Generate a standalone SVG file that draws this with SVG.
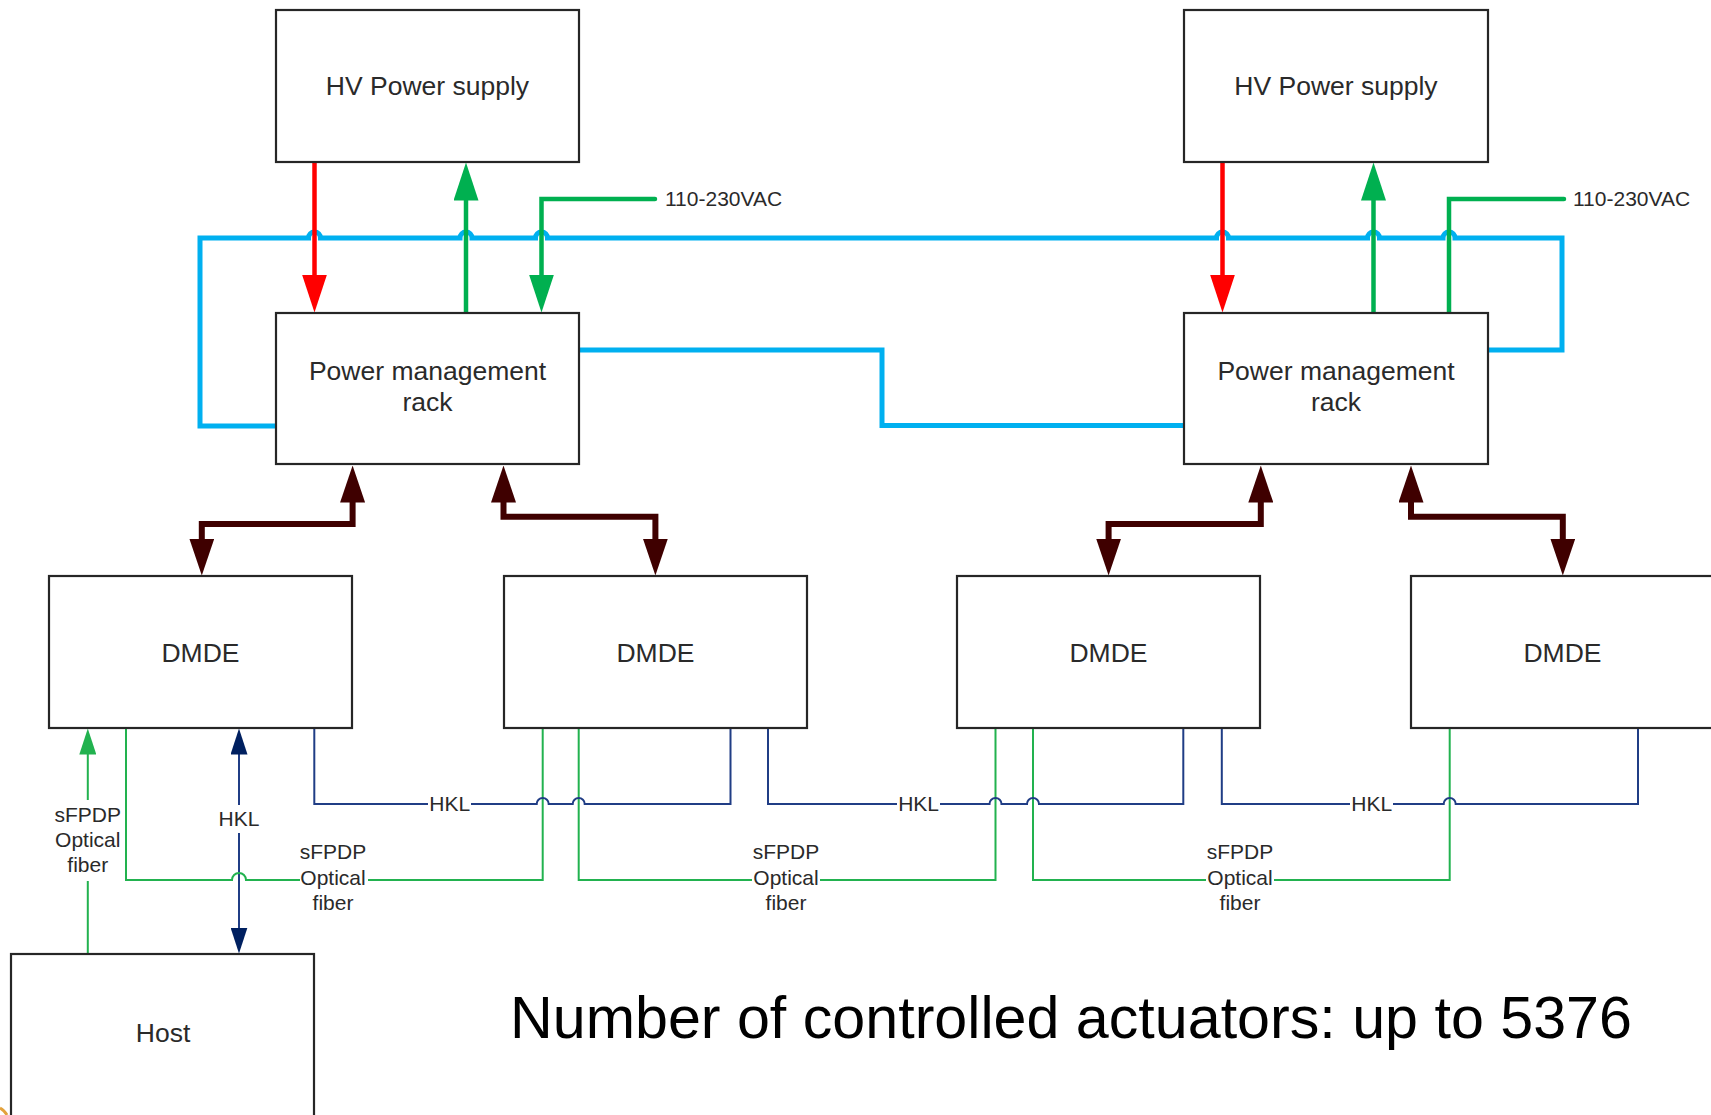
<svg xmlns="http://www.w3.org/2000/svg" width="1711" height="1115" viewBox="0 0 1711 1115">
<style>
.box{fill:#fff;stroke:#262626;stroke-width:2.2}
.t{font-family:"Liberation Sans",Arial,sans-serif;fill:#2a2a2a;text-anchor:middle}
.bt{font-size:26.5px}
.lt{font-size:21px}
.red{fill:none;stroke:#ff0000;stroke-width:4.5}
.grn{fill:none;stroke:#00b050;stroke-width:4.5}
.blu{fill:none;stroke:#00b0f0;stroke-width:5}
.mar{fill:none;stroke:#3f0000;stroke-width:6}
.tg{fill:none;stroke:#22b24f;stroke-width:2}
.tb{fill:none;stroke:#203d85;stroke-width:2}
</style>
<defs>
<marker id="aRed" markerUnits="userSpaceOnUse" viewBox="0 0 38 25" markerWidth="38" markerHeight="25" refX="0.5" refY="12.5" orient="auto-start-reverse"><path d="M0,0 L38,12.5 L0,25 Z" fill="#ff0000"/></marker>
<marker id="aGrn" markerUnits="userSpaceOnUse" viewBox="0 0 38 25" markerWidth="38" markerHeight="25" refX="0.5" refY="12.5" orient="auto-start-reverse"><path d="M0,0 L38,12.5 L0,25 Z" fill="#00b050"/></marker>
<marker id="aMar" markerUnits="userSpaceOnUse" viewBox="0 0 37 25" markerWidth="37" markerHeight="25" refX="0.5" refY="12.5" orient="auto-start-reverse"><path d="M0,0 L37,12.5 L0,25 Z" fill="#3f0000"/></marker>
<marker id="aTg" markerUnits="userSpaceOnUse" viewBox="0 0 26 17" markerWidth="26" markerHeight="17" refX="0.5" refY="8.5" orient="auto-start-reverse"><path d="M0,0 L26,8.5 L0,17 Z" fill="#22b24f"/></marker>
<marker id="aTb" markerUnits="userSpaceOnUse" viewBox="0 0 26 17" markerWidth="26" markerHeight="17" refX="0.5" refY="8.5" orient="auto-start-reverse"><path d="M0,0 L26,8.5 L0,17 Z" fill="#002060"/></marker>
</defs>
<rect width="1711" height="1115" fill="#fff"/>

<g id="connectors">
<!-- blue loops -->
<path class="blu" d="M278,426 H200 V238 H308.5 a6,6 0 0 1 12,0 H460 a6,6 0 0 1 12,0 H535.5 a6,6 0 0 1 12,0 H1216.5 a6,6 0 0 1 12,0 H1367.5 a6,6 0 0 1 12,0 H1443 a6,6 0 0 1 12,0 H1562 V350 H1488"/>
<path class="blu" d="M578,350 H882 V425.5 H1184"/>
<!-- HV / power connections -->
<path class="red" d="M314.5,162 V275" marker-end="url(#aRed)"/>
<path class="grn" d="M466,313 V200" marker-end="url(#aGrn)"/>
<path class="grn" stroke-linecap="round" d="M655,199 H541.5 V275" marker-end="url(#aGrn)"/>
<path class="red" d="M1222.5,162 V275" marker-end="url(#aRed)"/>
<path class="grn" d="M1373.5,313 V200" marker-end="url(#aGrn)"/>
<path class="grn" stroke-linecap="round" d="M1564,199 H1449 V313"/>
<!-- maroon PM to DMDE -->
<path class="mar" d="M201.8,539 V524 H352.6 V502" marker-start="url(#aMar)" marker-end="url(#aMar)"/>
<path class="mar" d="M503.5,502 V516.7 H655.4 V539" marker-start="url(#aMar)" marker-end="url(#aMar)"/>
<path class="mar" d="M1108.6,539 V524 H1260.8 V502" marker-start="url(#aMar)" marker-end="url(#aMar)"/>
<path class="mar" d="M1411,502 V516.7 H1562.8 V539" marker-start="url(#aMar)" marker-end="url(#aMar)"/>
<!-- host links -->
<path class="tg" d="M87.8,954 V881 M87.8,800 V754" marker-end="url(#aTg)"/>
<path class="tb" d="M239,754 V805 M239,833 V928" marker-start="url(#aTb)" marker-end="url(#aTb)"/>
<!-- sFPDP chains -->
<path class="tg" d="M126,728 V880 H232 a7,7 0 0 1 14,0 H300 M368,880 H542.7 V728"/>
<path class="tg" d="M578.7,728 V880 H752 M820,880 H995.5 V728"/>
<path class="tg" d="M1033,728 V880 H1206 M1274,880 H1449.7 V728"/>
<!-- HKL chains -->
<path class="tb" d="M314.3,728 V804 H428 M471,804 H536.7 a6,6 0 0 1 12,0 H572.7 a6,6 0 0 1 12,0 H730.5 V728"/>
<path class="tb" d="M768,728 V804 H897 M940,804 H989.5 a6,6 0 0 1 12,0 H1027 a6,6 0 0 1 12,0 H1183.3 V728"/>
<path class="tb" d="M1221.8,728 V804 H1350 M1393,804 H1443.7 a6,6 0 0 1 12,0 H1638 V728"/>
<!-- labels -->
<text class="t lt" x="665" y="206" style="text-anchor:start">110-230VAC</text>
<text class="t lt" x="1573" y="206" style="text-anchor:start">110-230VAC</text>
<text class="t lt" x="87.8" y="822">sFPDP</text>
<text class="t lt" x="87.8" y="847">Optical</text>
<text class="t lt" x="87.8" y="872">fiber</text>
<text class="t lt" x="239" y="826">HKL</text>
<text class="t lt" x="333" y="859">sFPDP</text>
<text class="t lt" x="333" y="885">Optical</text>
<text class="t lt" x="333" y="910">fiber</text>
<text class="t lt" x="786" y="859">sFPDP</text>
<text class="t lt" x="786" y="885">Optical</text>
<text class="t lt" x="786" y="910">fiber</text>
<text class="t lt" x="1240" y="859">sFPDP</text>
<text class="t lt" x="1240" y="885">Optical</text>
<text class="t lt" x="1240" y="910">fiber</text>
<text class="t lt" x="449.7" y="811">HKL</text>
<text class="t lt" x="918.6" y="811">HKL</text>
<text class="t lt" x="1371.7" y="811">HKL</text>
</g>

<g id="hv1"><rect class="box" x="276" y="10" width="303" height="152"/><text class="t bt" x="427.5" y="95">HV Power supply</text></g>
<g id="pm1"><rect class="box" x="276" y="313" width="303" height="151"/><text class="t bt" x="427.5" y="380">Power management</text><text class="t bt" x="427.5" y="411">rack</text></g>
<g id="hv2"><rect class="box" x="1184" y="10" width="304" height="152"/><text class="t bt" x="1336" y="95">HV Power supply</text></g>
<g id="pm2"><rect class="box" x="1184" y="313" width="304" height="151"/><text class="t bt" x="1336" y="380">Power management</text><text class="t bt" x="1336" y="411">rack</text></g>
<g id="dmde1"><rect class="box" x="49" y="576" width="303" height="152"/><text class="t bt" x="200.5" y="661.5">DMDE</text></g>
<g id="dmde2"><rect class="box" x="504" y="576" width="303" height="152"/><text class="t bt" x="655.5" y="661.5">DMDE</text></g>
<g id="dmde3"><rect class="box" x="957" y="576" width="303" height="152"/><text class="t bt" x="1108.5" y="661.5">DMDE</text></g>
<g id="dmde4"><rect class="box" x="1411" y="576" width="303" height="152"/><text class="t bt" x="1562.5" y="661.5">DMDE</text></g>
<g id="host"><rect class="box" x="11" y="954" width="303" height="175"/><text class="t bt" x="163" y="1042">Host</text></g>

<text x="510" y="1038" font-family="'Liberation Sans',Arial,sans-serif" font-size="59.2" fill="#000">Number of controlled actuators: up to 5376</text>
<path d="M0,1108 Q4,1110 7,1115" fill="none" stroke="#e3a23c" stroke-width="3"/>
</svg>
